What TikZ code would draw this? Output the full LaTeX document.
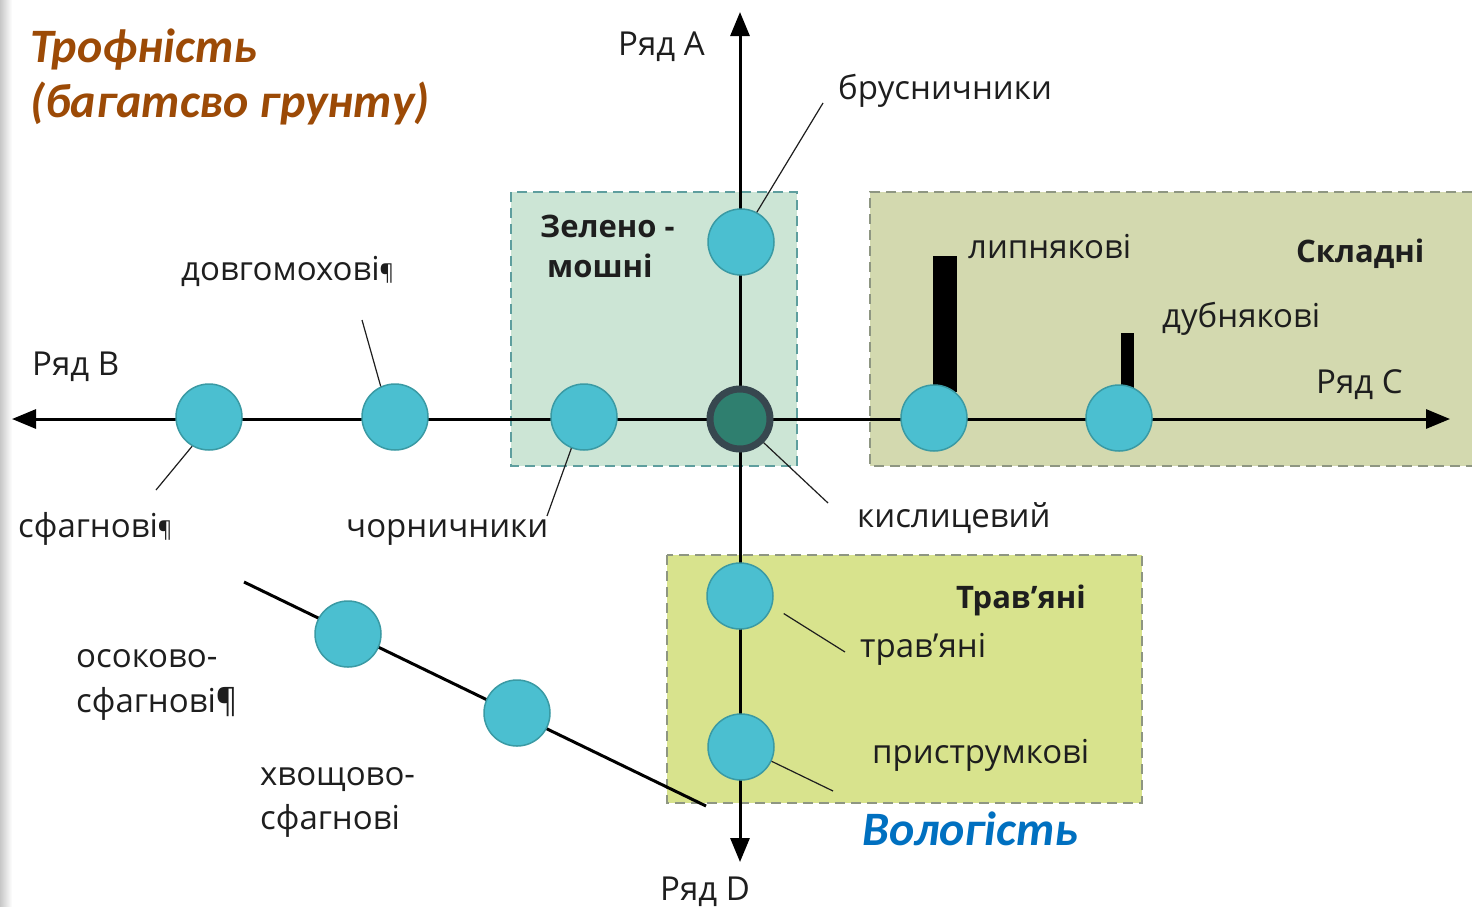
\documentclass[tikz,border=0pt]{standalone}
\usepackage{fontspec}
\setmainfont{Open Sans}
\newfontfamily\titlefont{Carlito}
\usetikzlibrary{arrows.meta}
\definecolor{dotfill}{HTML}{4BBFD0}
\definecolor{dotedge}{HTML}{3A9AA4}
\definecolor{ctrfill}{HTML}{2F7F6F}
\definecolor{ctredge}{HTML}{37474F}
\definecolor{boxone}{HTML}{CCE5D5}
\definecolor{boxoneedge}{HTML}{5E9E9E}
\definecolor{boxtwo}{HTML}{D3D9AF}
\definecolor{boxthree}{HTML}{D8E38D}
\definecolor{boxedge}{HTML}{8E9682}
\definecolor{txt}{HTML}{1E1E1E}
\definecolor{brown}{HTML}{9C4A06}
\definecolor{blue}{HTML}{0070C0}
\begin{document}
\begin{tikzpicture}[x=1pt,y=-1pt,
  dot/.style={circle,fill=dotfill,draw=dotedge,line width=1.5pt,minimum size=66pt,inner sep=0pt},
  ctrdot/.style={circle,fill=ctrfill,draw=ctredge,line width=7pt,minimum size=60pt,inner sep=0pt},
  lbl/.style={anchor=base west,font=\fontsize{33}{38}\selectfont,text=txt,inner sep=0pt},
  blbl/.style={anchor=base west,inner sep=0pt,text=txt,font=\fontsize{31}{36}\selectfont\bfseries},
  ttl/.style={anchor=base west,inner sep=0pt,font=\titlefont\fontsize{48}{54}\selectfont\bfseries\itshape},
  axisline/.style={line width=3pt,draw=black,-{Triangle[length=24pt,width=19pt]}},
  plainline/.style={line width=3pt,draw=black},
  lead/.style={line width=1.2pt,draw=txt},
  dashbox/.style={line width=2.6pt,dash pattern=on 10pt off 6pt}]
\useasboundingbox (0,0) rectangle (1472,906);
\fill[white] (0,0) rectangle (1472,906);
\shade[left color=black!22,right color=white] (0,0) rectangle (12,906);

% boxes
\fill[boxone] (511,192) rectangle (797,466);
\draw[dashbox,draw=boxoneedge] (511,192) rectangle (797,466);
\fill[boxtwo] (870,192) rectangle (1472,466);
\draw[dashbox,draw=boxedge] (1472,192) -- (870,192) -- (870,466) -- (1472,466);
\fill[boxthree] (667,555) rectangle (1142,803);
\draw[dashbox,draw=boxedge] (667,555) rectangle (1142,803);

% positions
\coordinate (pc) at (740,419);
\coordinate (topA) at (740,12);
\coordinate (botD) at (740,862);
\coordinate (leftB) at (12,419);
\coordinate (rightC) at (1450,419);
\coordinate (dgA) at (244,582);
\coordinate (dgB) at (706,806);

% axes
\draw[axisline] (pc) -- (topA);
\draw[axisline] (pc) -- (botD);
\draw[axisline] (pc) -- (leftB);
\draw[axisline] (pc) -- (rightC);
\draw[plainline] (dgA) -- (dgB);

% bars
\fill[black] (933,256) rectangle (957,392);
\fill[black] (1121,333) rectangle (1134,388);

% circles
\node[dot] (bru) at (741,242) {};
\node[dot] (chor) at (584,417) {};
\node[dot] (dovh) at (395,417) {};
\node[dot] (sfah) at (209,417) {};
\node[dot] (lyp) at (934,418) {};
\node[dot] (dub) at (1119,418) {};
\node[dot] (trav) at (740,596) {};
\node[dot] (prys) at (741,747) {};
\node[dot] (osok) at (348,634) {};
\node[dot] (khvo) at (517,713) {};
\node[ctrdot] (kysl) at (740,419) {};

% leader ends
\coordinate (lbru) at (823,103);
\coordinate (ldovh) at (362,320);
\coordinate (lsfah) at (156,490);
\coordinate (lchor) at (547,516);
\coordinate (lkysl) at (828,503);
\coordinate (ltrav) at (845,652);
\coordinate (lprys) at (833,791);
\draw[lead] (bru.62) -- (lbru);
\draw[lead] (dovh.115) -- (ldovh);
\draw[lead] (sfah.240) -- (lsfah);
\draw[lead] (chor.-112) -- (lchor);
\draw[lead] (kysl.-45) -- (lkysl);
\draw[lead] ([shift={(12,6)}]trav.-20) -- (ltrav);
\draw[lead] (prys.-25) -- (lprys);

% labels
\node[ttl,text=brown] (t1) at (30,62) {Трофність};
\node[ttl,text=brown] (t2) at (30,117) {(багатсво грунту)};
\node[ttl,text=blue] (t3) at (862,845) {Вологість};
\node[lbl] (rA) at (618,55) {Ряд А};
\node[lbl] (rB) at (32,375) {Ряд В};
\node[lbl] (rC) at (1316,393) {Ряд С};
\node[lbl] (rD) at (660,900) {Ряд D};
\node[lbl] (tbru) at (838,99) {брусничники};
\node[lbl] (tdovh) at (181,280) {довгомохові{\fontsize{22}{22}\selectfont¶}};
\node[lbl] (tsfah) at (18,537) {сфагнові{\fontsize{22}{22}\selectfont¶}};
\node[lbl] (tchor) at (346,537) {чорничники};
\node[lbl] (tkysl) at (857,527) {кислицевий};
\node[blbl] (tz1) at (540,237) {Зелено -};
\node[blbl] (tz2) at (547,277) {мошні};
\node[lbl] (tlyp) at (968,258) {липнякові};
\node[blbl] (tskl) at (1296,262) {Складні};
\node[lbl] (tdub) at (1162,327) {дубнякові};
\node[blbl] (ttrb) at (956,608) {Трав’яні};
\node[lbl] (ttrav) at (860,657) {трав’яні};
\node[lbl] (tprys) at (872,763) {приструмкові};
\node[lbl] (tos1) at (76,667) {осоково-};
\node[lbl] (tos2) at (76,712) {сфагнові¶};
\node[lbl] (tkh1) at (260,785) {хвощово-};
\node[lbl] (tkh2) at (260,829) {сфагнові};
\end{tikzpicture}
\end{document}
